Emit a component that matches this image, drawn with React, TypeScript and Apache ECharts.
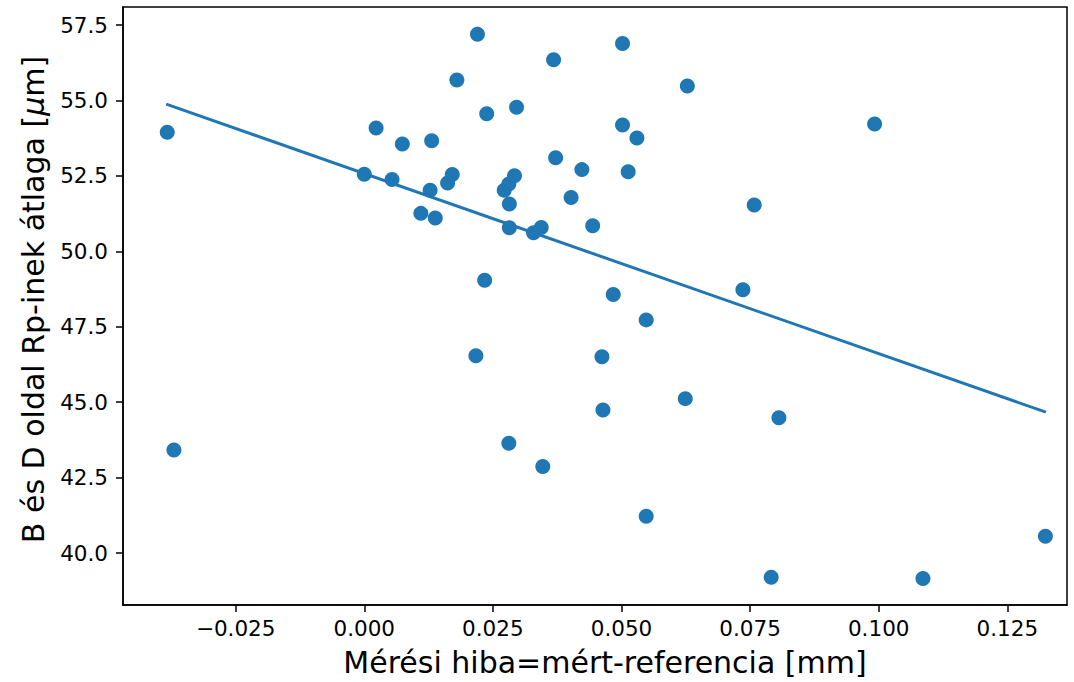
import React, { useEffect, useRef } from "react";
import * as echarts from "echarts";

const errX: number[] = [
  -0.0383, -0.037, 0.0, 0.0023, 0.0054, 0.0074, 0.011, 0.0128, 0.0131, 0.0138,
  0.0162, 0.0171, 0.018, 0.0217, 0.022, 0.0234, 0.0238, 0.0272, 0.0281, 0.0281,
  0.0282, 0.0282, 0.0292, 0.0296, 0.0329, 0.0344, 0.0347, 0.0368, 0.0372, 0.0402,
  0.0423, 0.0444, 0.0462, 0.0464, 0.0484, 0.0502, 0.0502, 0.0513, 0.053, 0.0548,
  0.0548, 0.0624, 0.0628, 0.0736, 0.0758, 0.0791, 0.0806, 0.0992, 0.1086, 0.1324,
];
const rpY: number[] = [
  53.95, 43.42, 52.56, 54.09, 52.38, 53.56, 51.26, 52.03, 53.67, 51.11,
  52.27, 52.55, 55.68, 46.54, 57.2, 49.04, 54.56, 52.03, 52.23, 43.64,
  51.57, 50.78, 52.51, 54.78, 50.62, 50.79, 42.87, 56.35, 53.1, 51.79,
  52.71, 50.85, 46.51, 44.74, 48.57, 56.89, 54.19, 52.64, 53.76, 47.73,
  41.22, 45.12, 55.48, 48.73, 51.54, 39.2, 44.49, 54.22, 39.16, 40.56,
];
const fitX: number[] = [-0.0385, 0.1325];
const fitY: number[] = [54.88, 44.67];

const xTicks: number[] = [-0.025, 0, 0.025, 0.05, 0.075, 0.1, 0.125];
const yTicks: number[] = [40, 42.5, 45, 47.5, 50, 52.5, 55, 57.5];

const xName = "Mérési hiba=mért-referencia [mm]";
const yName = "B és D oldal Rp-inek átlaga [{mu|μ}m]";

const FONT = "DejaVu Sans";
const BLUE = "#1f77b4";

export default function App() {
  const ref = useRef<HTMLDivElement>(null);
  useEffect(() => {
    if (!ref.current) return;
    const chart = echarts.init(ref.current, null, { renderer: "svg" });
    const fmtX = (v: number) => {
      const s = Math.abs(v).toFixed(3);
      return v < -1e-9 ? "\u2212" + s : s;
    };
    chart.setOption({
      animation: false,
      backgroundColor: "#ffffff",
      textStyle: { fontFamily: FONT },
      grid: {
        left: 123,
        right: 7,
        top: 7,
        bottom: 76,
        show: true,
        borderColor: "#000",
        borderWidth: 1.5,
        backgroundColor: "transparent",
      },
      xAxis: {
        type: "value",
        min: -0.0469,
        max: 0.1366,
        name: xName,
        nameLocation: "middle",
        nameGap: 42,
        nameTextStyle: { fontFamily: FONT, fontSize: 30, color: "#000", padding: [0, 0, 0, 20] },
        axisLine: { show: true, onZero: false, lineStyle: { color: "#000", width: 1.5 } },
        axisTick: {
          show: true,
          length: 7,
          inside: false,
          customValues: xTicks,
          lineStyle: { color: "#000", width: 1.5 },
        },
        axisLabel: {
          customValues: xTicks,
          formatter: fmtX,
          fontFamily: FONT,
          fontSize: 21.5,
          color: "#000",
          margin: 12,
        },
        splitLine: { show: false },
      },
      yAxis: {
        type: "value",
        min: 38.28,
        max: 58.1,
        name: yName,
        nameLocation: "middle",
        nameGap: 75,
        nameRotate: 90,
        nameTextStyle: {
          fontFamily: FONT,
          fontSize: 30,
          color: "#000",
          padding: [0, 0, 0, 13],
          rich: { mu: { fontFamily: FONT, fontSize: 30, fontStyle: "italic", color: "#000" } },
        },
        axisLine: { show: true, onZero: false, lineStyle: { color: "#000", width: 1.5 } },
        axisTick: {
          show: true,
          length: 7,
          inside: false,
          customValues: yTicks,
          lineStyle: { color: "#000", width: 1.5 },
        },
        axisLabel: {
          customValues: yTicks,
          formatter: (v: number) => v.toFixed(1),
          fontFamily: FONT,
          fontSize: 21.5,
          color: "#000",
          margin: 15,
        },
        splitLine: { show: false },
      },
      series: [
        {
          type: "scatter",
          data: errX.map((x, i) => [x, rpY[i]]),
          symbol: "circle",
          symbolSize: 15,
          itemStyle: { color: BLUE, opacity: 1 },
          z: 2,
        },
        {
          type: "line",
          data: fitX.map((x, i) => [x, fitY[i]]),
          showSymbol: false,
          symbol: "none",
          lineStyle: { color: BLUE, width: 3 },
          z: 3,
        },
      ],
    });
    return () => chart.dispose();
  }, []);
  return (
    <div
      ref={ref}
      style={{ position: "fixed", left: 0, top: 0, width: 1074, height: 682, background: "#fff" }}
    />
  );
}
